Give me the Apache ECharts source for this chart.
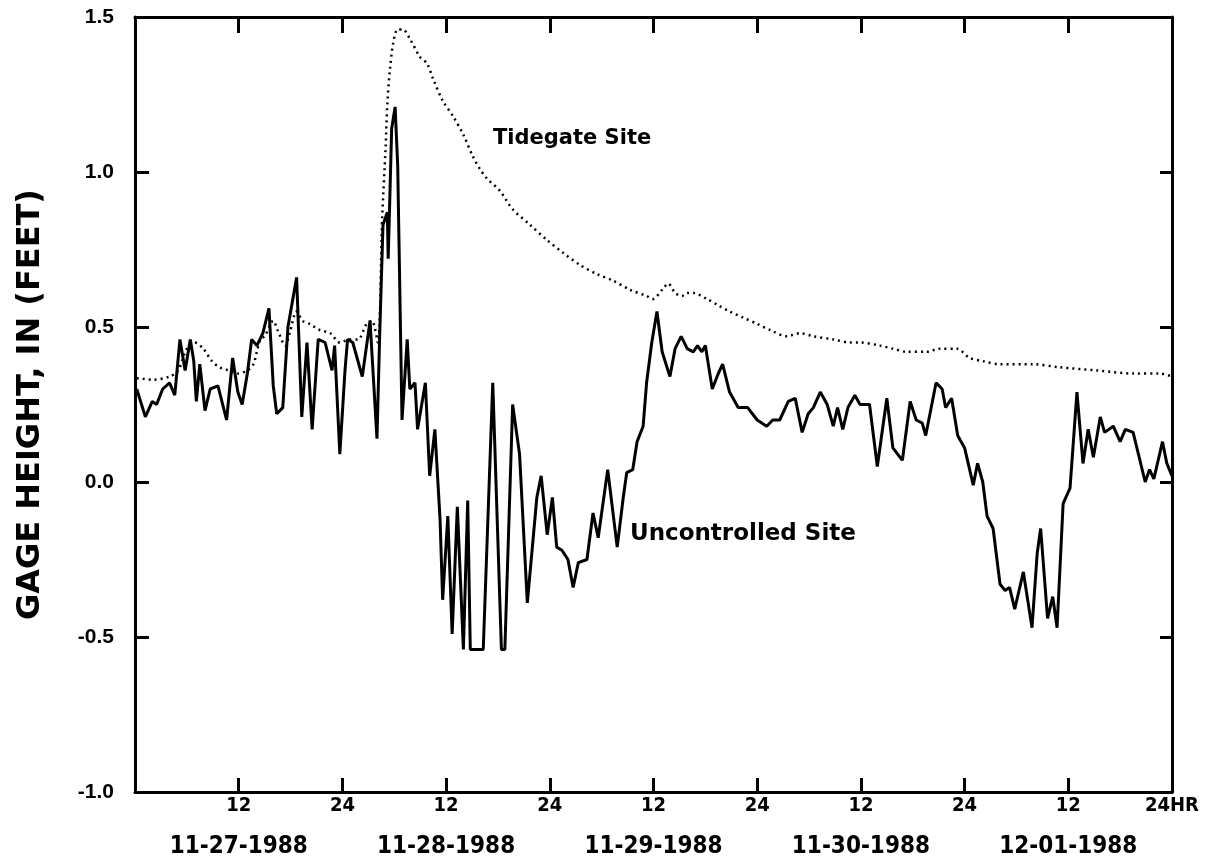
<!DOCTYPE html>
<html>
<head>
    <meta charset="UTF-8">
    <title>Gage height</title>
    <script src="https://cdn.jsdelivr.net/npm/echarts@6/dist/echarts.min.js"></script>
    <style>
        body { margin: 0; background: #fff; }
    </style>
</head>
<body>

<div id="main" style="width: 1215px;height:865px"></div>

<script type="text/javascript">
    // hours since 00:00 on 11-27-1988
    var uncHours = [0.2,1.2,2.0,2.5,3.2,4.0,4.6,5.2,5.8,6.4,6.8,7.1,7.5,8.1,8.7,9.6,10.6,11.3,11.9,12.4,
        13.0,13.5,14.1,14.8,15.5,16.0,16.4,17.1,17.7,18.7,19.3,19.9,20.5,21.2,22.0,22.8,23.1,23.7,24.3,24.6,
        25.2,26.3,27.2,28.0,28.3,28.7,29.2,29.3,29.7,30.1,30.4,30.9,31.5,31.8,32.4,32.7,33.6,34.1,34.7,35.3,
        35.6,36.2,36.7,37.3,38.0,38.5,38.8,40.3,41.4,42.4,42.8,43.7,44.5,45.4,46.5,47.0,47.7,48.3,48.8,49.4,
        50.1,50.7,51.3,52.3,53.0,53.6,54.7,55.8,56.5,56.9,57.6,58.1,58.8,59.2,59.8,60.4,61.0,61.9,62.5,63.2,
        63.9,64.6,65.1,65.6,66.0,66.8,67.5,68.0,68.8,69.8,70.9,72.0,73.1,73.8,74.6,75.6,76.4,77.2,77.9,78.5,
        79.3,80.1,80.8,81.3,81.9,82.5,83.3,83.9,85.0,85.9,87.0,87.7,88.8,89.7,90.4,91.1,91.5,92.7,93.4,93.8,
        94.5,95.2,96.0,97.0,97.5,98.1,98.6,99.3,100.1,100.7,101.2,101.8,102.8,103.8,104.4,104.8,105.6,106.2,106.7,107.4,
        108.2,109.0,109.7,110.3,110.9,111.7,112.2,113.2,114.0,114.6,115.5,116.9,117.4,117.9,118.9,119.4,120.0];
    var uncValues = [0.30,0.21,0.26,0.25,0.30,0.32,0.28,0.46,0.36,0.46,0.39,0.26,0.38,0.23,0.30,0.31,0.20,0.40,0.29,0.25,
        0.35,0.46,0.44,0.48,0.56,0.31,0.22,0.24,0.50,0.66,0.21,0.45,0.17,0.46,0.45,0.36,0.44,0.09,0.36,0.46,
        0.45,0.34,0.52,0.14,0.46,0.83,0.87,0.72,1.14,1.21,1.02,0.20,0.46,0.30,0.32,0.17,0.32,0.02,0.17,-0.12,
        -0.38,-0.11,-0.49,-0.08,-0.54,-0.06,-0.54,-0.54,0.32,-0.54,-0.54,0.25,0.09,-0.39,-0.05,0.02,-0.17,-0.05,-0.21,-0.22,
        -0.25,-0.34,-0.26,-0.25,-0.10,-0.18,0.04,-0.21,-0.05,0.03,0.04,0.13,0.18,0.32,0.45,0.55,0.42,0.34,0.43,0.47,
        0.43,0.42,0.44,0.42,0.44,0.30,0.35,0.38,0.29,0.24,0.24,0.20,0.18,0.20,0.20,0.26,0.27,0.16,0.22,0.24,
        0.29,0.25,0.18,0.24,0.17,0.24,0.28,0.25,0.25,0.05,0.27,0.11,0.07,0.26,0.20,0.19,0.15,0.32,0.30,0.24,
        0.27,0.15,0.11,-0.01,0.06,0.00,-0.11,-0.15,-0.33,-0.35,-0.34,-0.41,-0.29,-0.47,-0.23,-0.15,-0.44,-0.37,-0.47,-0.07,
        -0.02,0.29,0.06,0.17,0.08,0.21,0.16,0.18,0.13,0.17,0.16,0.00,0.04,0.01,0.13,0.06,0.02];

    var tideHours = [0.2,2.1,4.0,5.0,6.0,6.9,7.9,8.9,9.8,10.8,11.9,13.0,13.7,14.1,14.5,15.0,16.0,16.5,17.4,17.9,
        18.7,19.4,20.2,21.4,22.6,23.7,24.9,25.8,26.8,27.4,28.1,28.6,29.0,29.2,29.5,29.9,30.4,31.0,31.8,33.0,
        33.8,34.5,35.6,36.8,38.0,39.1,39.9,40.7,42.2,43.7,45.7,47.7,49.5,51.5,53.5,55.3,57.3,59.2,59.9,61.0,
        61.7,62.5,63.3,63.9,64.6,66.2,67.5,68.8,70.4,72.0,73.5,75.4,77.0,78.5,80.8,82.7,83.9,86.2,87.7,89.3,
        91.6,93.1,95.1,96.6,98.1,100.1,103.9,107.0,111.3,115.5,118.6,120.0];
    var tideValues = [0.335,0.33,0.34,0.36,0.43,0.45,0.43,0.39,0.37,0.36,0.35,0.36,0.38,0.42,0.46,0.47,0.52,0.49,0.44,0.48,
        0.55,0.52,0.51,0.49,0.48,0.45,0.46,0.46,0.51,0.52,0.45,0.85,1.08,1.22,1.33,1.42,1.46,1.46,1.43,1.37,
        1.35,1.30,1.23,1.18,1.12,1.05,1.01,0.98,0.94,0.88,0.83,0.78,0.74,0.70,0.67,0.65,0.62,0.60,0.59,0.62,
        0.64,0.61,0.60,0.61,0.61,0.59,0.57,0.55,0.53,0.51,0.49,0.47,0.48,0.47,0.46,0.45,0.45,0.44,0.43,0.42,
        0.42,0.43,0.43,0.40,0.39,0.38,0.38,0.37,0.36,0.35,0.35,0.34];

    var dateLabels = {12: '11-27-1988', 36: '11-28-1988', 60: '11-29-1988', 84: '11-30-1988', 108: '12-01-1988'};

    function pairs(xs, ys) {
        var out = [];
        for (var i = 0; i < xs.length; i++) out.push([xs[i], ys[i]]);
        return out;
    }

    var black = '#000';
    var myChart = echarts.init(document.getElementById('main'));

    var tickStyle = {color: black, width: 3};
    option = {
        animation: false,
        backgroundColor: '#fff',
        grid: {left: 135, right: 43, top: 17, bottom: 73},
        xAxis: [{
            type: 'value', min: 0, max: 120, interval: 12, position: 'bottom',
            axisLine: {onZero: false, lineStyle: {color: black, width: 3}},
            axisTick: {inside: true, length: 14, lineStyle: tickStyle},
            splitLine: {show: false},
            axisLabel: {
                margin: 4,
                formatter: function (v) {
                    if (v === 0) return '';
                    if (v === 120) return '{t|24HR}';
                    var hr = (v % 24 === 0) ? '24' : '12';
                    if (dateLabels[v]) return '{t|' + hr + '}\n{d|' + dateLabels[v] + '}';
                    return '{t|' + hr + '}';
                },
                rich: {
                    t: {fontFamily: 'DejaVu Sans Condensed', fontWeight: 'bold', fontSize: 20, color: black, lineHeight: 20},
                    d: {fontFamily: 'DejaVu Sans Condensed', fontWeight: 'bold', fontSize: 24, color: black, lineHeight: 62}
                }
            }
        }, {
            type: 'value', min: 0, max: 120, interval: 12, position: 'top',
            axisLine: {onZero: false, lineStyle: {color: black, width: 3}},
            axisTick: {inside: true, length: 16, lineStyle: tickStyle},
            axisLabel: {show: false},
            splitLine: {show: false}
        }],
        yAxis: [{
            type: 'value', min: -1, max: 1.5, interval: 0.5, position: 'left',
            name: 'GAGE HEIGHT, IN (FEET)',
            nameLocation: 'middle', nameRotate: 90, nameGap: 88,
            nameTextStyle: {fontFamily: 'DejaVu Sans', fontWeight: 'bold', fontSize: 32, color: black},
            axisLine: {onZero: false, lineStyle: {color: black, width: 3}},
            axisTick: {inside: true, length: 14, lineStyle: tickStyle},
            splitLine: {show: false},
            axisLabel: {
                margin: 21, color: black, fontFamily: 'Liberation Sans', fontWeight: 'bold', fontSize: 21,
                formatter: function (v) { return v.toFixed(1); }
            }
        }, {
            type: 'value', min: -1, max: 1.5, interval: 0.5, position: 'right',
            axisLine: {onZero: false, lineStyle: {color: black, width: 3}},
            axisTick: {inside: true, length: 12, lineStyle: tickStyle},
            axisLabel: {show: false},
            splitLine: {show: false}
        }],
        series: [{
            name: 'Tidegate Site',
            type: 'line',
            showSymbol: false,
            smooth: 0.3,
            lineStyle: {color: black, width: 2.5, type: [2, 4]},
            data: pairs(tideHours, tideValues)
        }, {
            name: 'Uncontrolled Site',
            type: 'line',
            showSymbol: false,
            lineStyle: {color: black, width: 3},
            data: pairs(uncHours, uncValues)
        }],
        graphic: [{
            type: 'text', left: 493, top: 128,
            style: {text: 'Tidegate Site', fontFamily: 'DejaVu Sans', fontWeight: 'bold', fontSize: 21, fill: black}
        }, {
            type: 'text', left: 630, top: 523,
            style: {text: 'Uncontrolled Site', fontFamily: 'DejaVu Sans', fontWeight: 'bold', fontSize: 23, fill: black}
        }]
    };
    myChart.setOption(option);
</script>
</body>
</html>
